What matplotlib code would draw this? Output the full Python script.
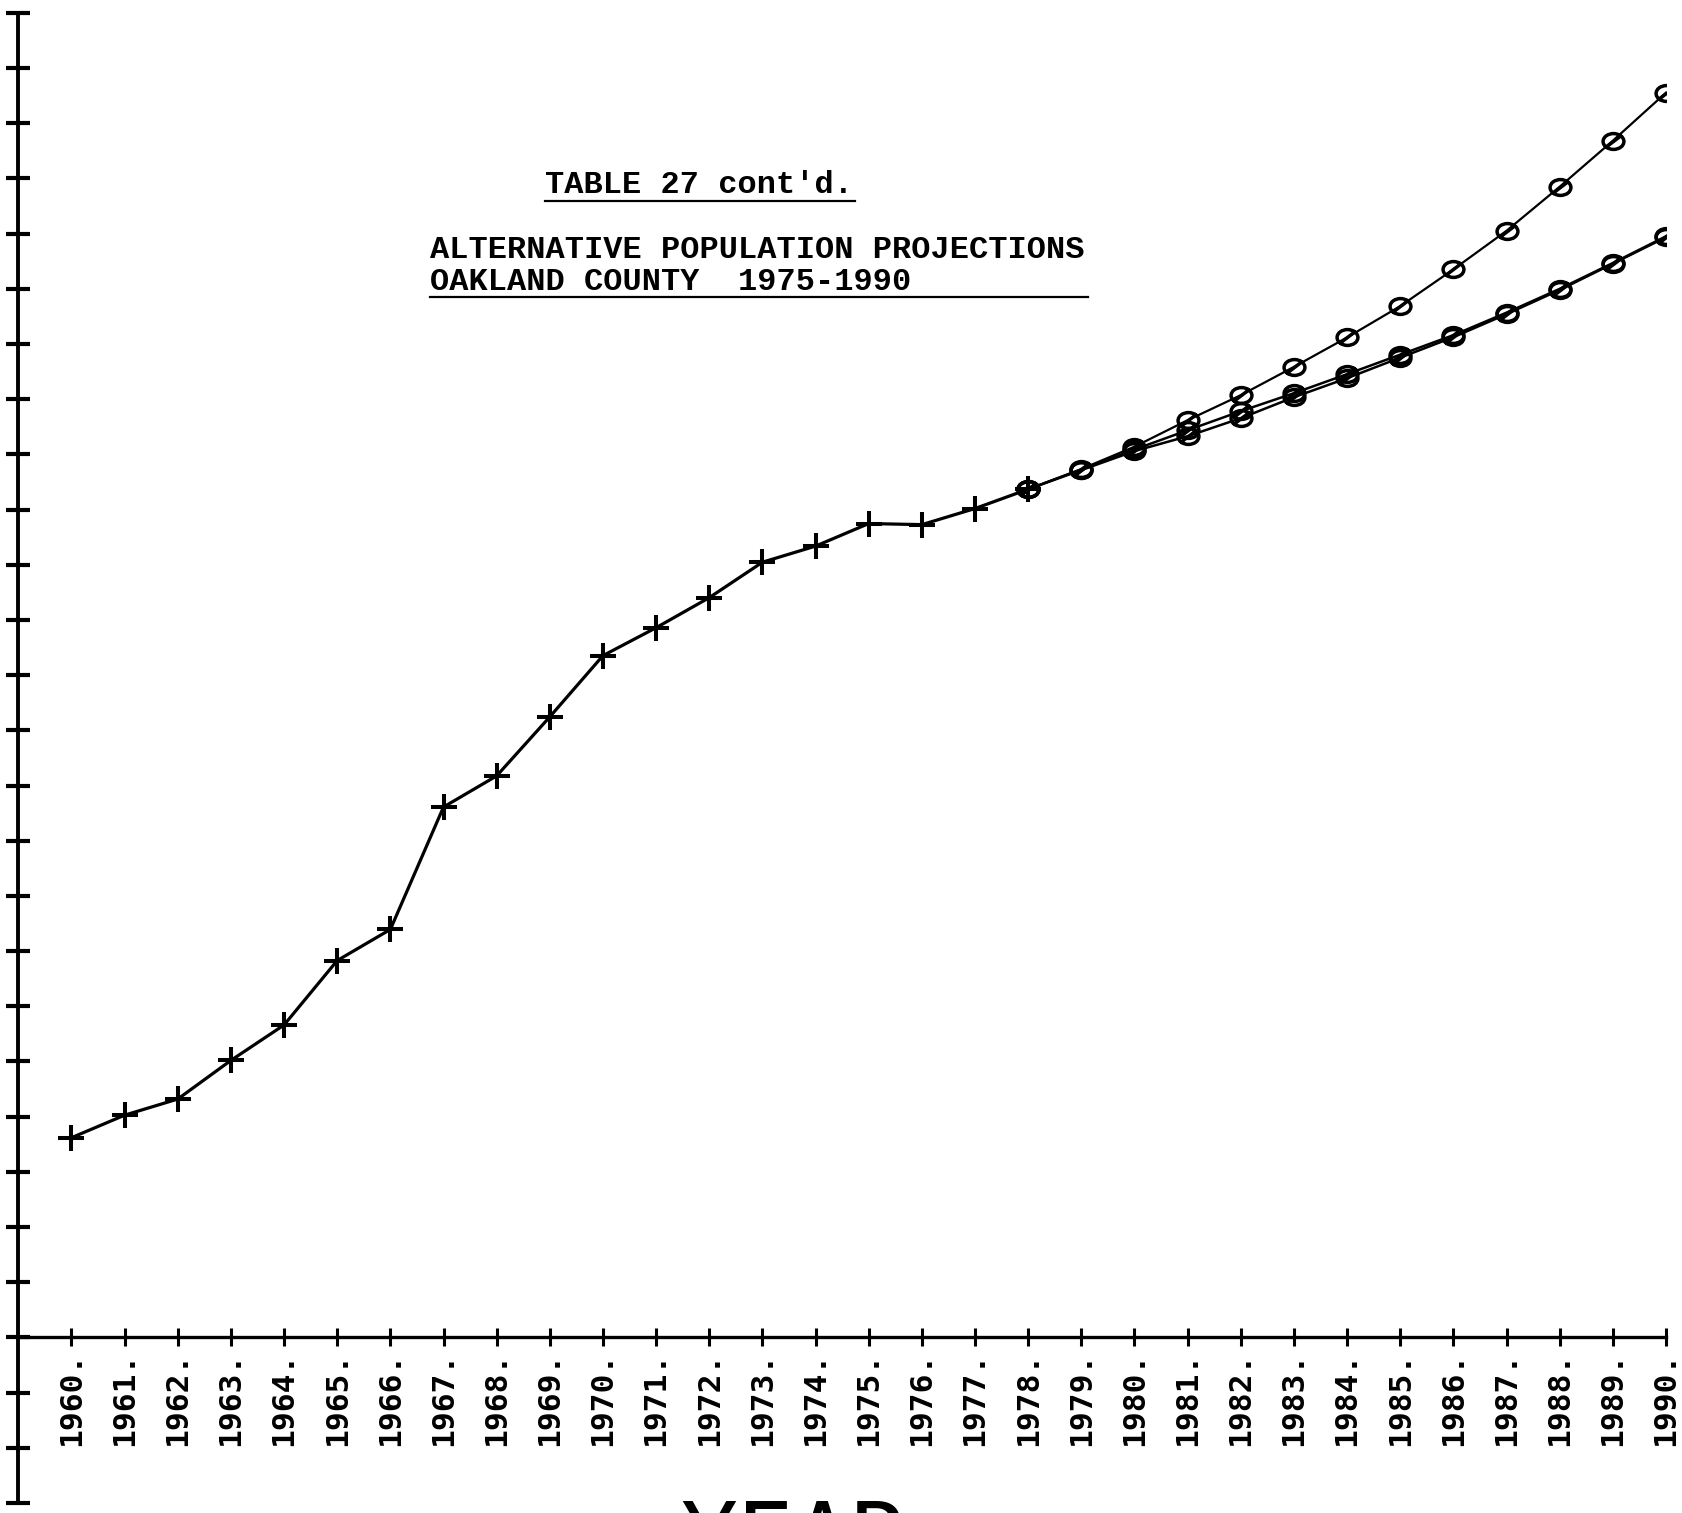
import matplotlib
matplotlib.use("Agg")
import matplotlib.pyplot as plt
from matplotlib.path import Path
from matplotlib.transforms import Affine2D
from matplotlib.lines import Line2D

# ---------------- data ----------------
hist_years = list(range(1960, 1979))
hist_pop = [690470, 700680, 707980, 725490, 741540, 770720, 784820,
            840270, 854380, 881130, 908850, 921500, 935120, 951170,
            958460, 968680, 968190, 975490, 984240]

proj_years = list(range(1978, 1991))
proj_high = [984240, 993380, 1003500, 1015500, 1026830, 1039650, 1052980,
             1067170, 1083810, 1101300, 1121250, 1142100, 1163860]
proj_mid = [984240, 993150, 1002200, 1010960, 1019580, 1027730, 1036350,
            1045190, 1054030, 1064220, 1075000, 1086700, 1098800]
proj_low = [984240, 992900, 1001500, 1008240, 1016400, 1025920, 1034530,
            1043830, 1053120, 1063540, 1074500, 1086400, 1098400]

x_ticks = list(range(1960, 1991))
x_labels = [f"{y}." for y in x_ticks]
y_ticks = list(range(525000, 1200001, 25000))

title1 = "TABLE 27 cont'd."
title2 = "ALTERNATIVE POPULATION PROJECTIONS"
title3 = "OAKLAND COUNTY  1975-1990"
xlabel = "YEAR"

# ---------------- figure ----------------
W, H = 1682, 1513
fig = plt.figure(figsize=(W / 100, H / 100), dpi=100)
fig.patch.set_facecolor("white")

left = 18.3 / W
right = 1666 / W
bottom = 1 - 1503 / H
top = 1 - 12.9 / H
ax = fig.add_axes([left, bottom, right - left, top - bottom])
ax.set_facecolor("white")

# slashed-circle marker
circ = Path.unit_circle()
slash = Path([(-0.8, -0.8), (0.8, 0.8)], [Path.MOVETO, Path.LINETO])
ring = Path.make_compound_path(circ, slash).transformed(Affine2D().scale(1.25, 0.95))

for series, lw in ((proj_low, 1.8), (proj_mid, 1.8), (proj_high, 1.6)):
    ax.plot(proj_years, series, color="black", lw=lw, marker=ring,
            markersize=15, markeredgewidth=2.5, fillstyle="none",
            markeredgecolor="black", zorder=3)

ax.plot(hist_years, hist_pop, color="black", lw=2.3, marker="+",
        markersize=19, markeredgewidth=2.9, zorder=4)

ax.set_xlim(1959, 1990)
ax.set_ylim(525000, 1200000)

ax.spines["top"].set_visible(False)
ax.spines["right"].set_visible(False)
ax.spines["bottom"].set_position(("data", 600000))
ax.spines["bottom"].set_linewidth(2.4)
ax.spines["left"].set_linewidth(2.8)

ax.set_xticks(x_ticks)
ax.set_xticklabels(x_labels, rotation=90, family="DejaVu Sans Mono",
                   fontweight="bold", fontsize=22.5)
ax.set_yticks(y_ticks)
ax.tick_params(axis="x", direction="inout", length=13, width=2.2, pad=4)
ax.tick_params(axis="y", direction="inout", length=17, width=3.0,
               labelleft=False)

# ---------------- titles ----------------
tfont = dict(family="Liberation Mono", fontweight="bold", fontsize=23,
             color="black")
fig.text(545 / W, 1 - 193 / H, title1, ha="left", va="baseline", **tfont)
fig.text(430 / W, 1 - 257.5 / H, title2, ha="left", va="baseline", **tfont)
fig.text(430 / W, 1 - 289.6 / H, title3, ha="left", va="baseline", **tfont)
fig.add_artist(Line2D([545 / W, 855 / W], [1 - 200.6 / H, 1 - 200.6 / H],
                      color="black", lw=1.6))
fig.add_artist(Line2D([430 / W, 1088 / W], [1 - 297 / H, 1 - 297 / H],
                      color="black", lw=1.6))

# axis title: in the reference only its top edge is inside the page
fig.text(680 / W, 1 - 1497 / H, xlabel, ha="left", va="top",
         family="DejaVu Sans Mono", fontsize=68, color="black")

fig.savefig("out.png", dpi=100, facecolor="white")
